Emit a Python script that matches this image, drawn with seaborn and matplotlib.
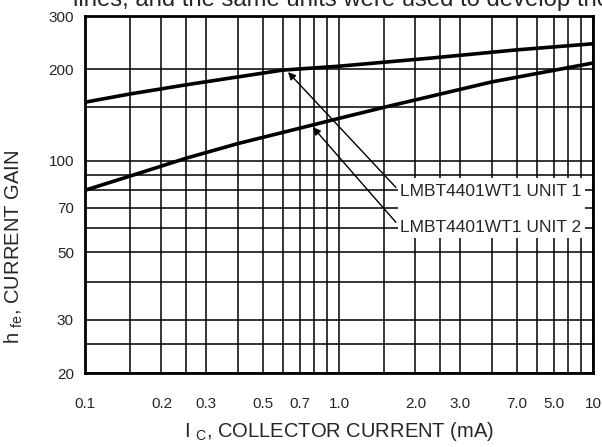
import matplotlib
matplotlib.use("Agg")
import matplotlib.pyplot as plt
import seaborn as sns
import pandas as pd
from matplotlib.ticker import FixedLocator, FixedFormatter, NullFormatter
from matplotlib.patches import Rectangle

# ---- data ----
unit1_ic = [0.1, 0.15, 0.25, 0.4, 0.6, 1.0, 2.3, 5.0, 10.0]
unit1_hfe = [156, 166, 178, 189, 199, 205, 218, 232, 243]
unit2_ic = [0.1, 0.15, 0.25, 0.4, 0.6, 1.0, 1.5, 4.0, 10.0]
unit2_hfe = [80, 89, 102, 114, 124, 138, 150, 182, 210]

x_tick_vals = [0.1, 0.2, 0.3, 0.5, 0.7, 1.0, 2.0, 3.0, 5.0, 7.0, 10.0]
x_tick_labels = ["0.1", "0.2", "0.3", "0.5", "0.7", "1.0", "2.0", "3.0", "7.0", "5.0", "10"]
x_grid_vals = [0.15, 0.25, 0.4, 0.6, 0.8, 0.9, 1.5, 2.5, 4.0, 6.0, 8.0, 9.0]
y_tick_vals = [20, 30, 50, 70, 100, 200, 300]
y_tick_labels = ["20", "30", "50", "70", "100", "200", "300"]
y_grid_vals = [25, 40, 60, 80, 90, 150]

label1 = "LMBT4401WT1 UNIT 1"
label2 = "LMBT4401WT1 UNIT 2"
label1_xy = (0.63, 196)
label2_xy = (0.79, 129)
label1_pos = (1.74, 79)
label2_pos = (1.74, 60.5)

df = pd.concat([
    pd.DataFrame({"ic": unit1_ic, "hfe": unit1_hfe, "unit": "1"}),
    pd.DataFrame({"ic": unit2_ic, "hfe": unit2_hfe, "unit": "2"}),
])

sns.set_style("white")
plt.rcParams["font.family"] = ["Liberation Sans", "DejaVu Sans"]
plt.rcParams["mathtext.fontset"] = "custom"
plt.rcParams["mathtext.rm"] = "Liberation Sans"
plt.rcParams["mathtext.it"] = "Liberation Sans"

fig = plt.figure(figsize=(6.02, 4.47), dpi=100)
ax = fig.add_axes([85 / 602, 1 - 373 / 447, 508 / 602, 357 / 447])

sns.lineplot(data=df, x="ic", y="hfe", units="unit", estimator=None,
             color="black", linewidth=2.6, legend=False, ax=ax, zorder=2)

ax.set_xscale("log")
ax.set_yscale("log")
ax.set_xlim(0.1, 10)
ax.set_ylim(20, 300)

ax.xaxis.set_major_locator(FixedLocator(x_tick_vals))
ax.xaxis.set_major_formatter(FixedFormatter(x_tick_labels))
ax.xaxis.set_minor_locator(FixedLocator(x_grid_vals))
ax.xaxis.set_minor_formatter(NullFormatter())
ax.yaxis.set_major_locator(FixedLocator(y_tick_vals))
ax.yaxis.set_major_formatter(FixedFormatter(y_tick_labels))
ax.yaxis.set_minor_locator(FixedLocator(y_grid_vals))
ax.yaxis.set_minor_formatter(NullFormatter())

ax.set_axisbelow(True)
ax.grid(True, which="both", color="black", linewidth=1.1)
ax.tick_params(which="both", length=0)
ax.tick_params(axis="x", pad=17, labelsize=11)
ax.tick_params(axis="y", pad=8, labelsize=11)
for s in ax.spines.values():
    s.set_color("black")
    s.set_linewidth(2.0)

ax.set_xlabel(r"I $_{\mathrm{C}}$, COLLECTOR CURRENT (mA)", fontsize=14.5, labelpad=7)
ax.set_ylabel(r"h $_{\mathrm{fe}}$, CURRENT GAIN", fontsize=14.5)
ax.yaxis.set_label_coords(-60 / 508, (373 - 247) / 357)

# white background behind the labels
ax.add_patch(Rectangle((313 / 508, (373 - 238) / 357), (585 - 398) / 508, 60 / 357,
                       transform=ax.transAxes, facecolor="white", edgecolor="none", zorder=1))

for txt, xy, pos in [(label1, label1_xy, label1_pos), (label2, label2_xy, label2_pos)]:
    ax.annotate(txt, xy=xy, xytext=pos, fontsize=12.5, ha="left", va="center",
                zorder=3,
                arrowprops=dict(arrowstyle="-|>", color="black", lw=1.0,
                                mutation_scale=11, shrinkA=1, shrinkB=0,
                                relpos=(0, 0.5)))

fig.text(73 / 602, 1 - 6 / 447, "lines, and the same units were used to develop the curves",
         fontsize=17.2, ha="left", va="baseline")

fig.savefig("out.png", dpi=100)
